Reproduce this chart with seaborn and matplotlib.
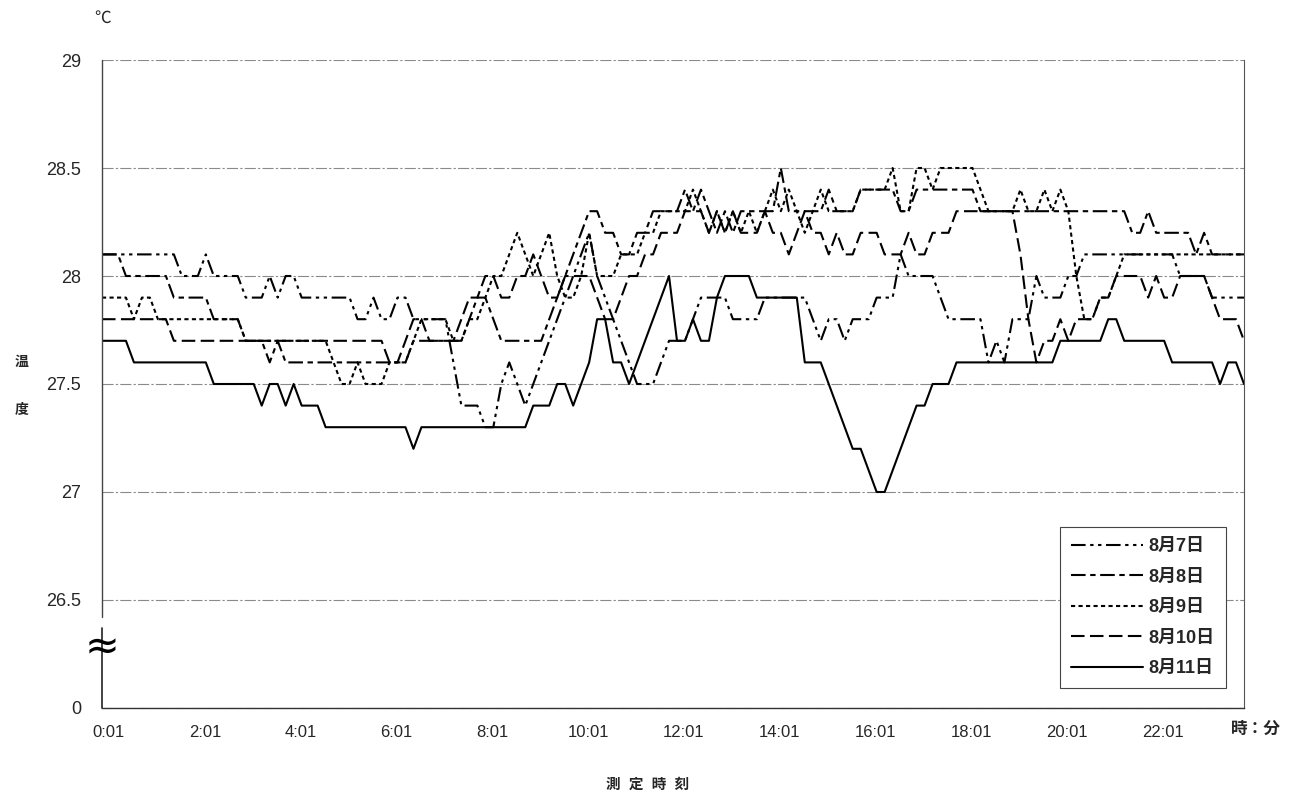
import numpy as np
import pandas as pd
import matplotlib
matplotlib.use("Agg")
import matplotlib.pyplot as plt
import matplotlib.transforms as mtransforms
import seaborn as sns

# ── 測定値 (10分間隔, 0:01 ～ 23:51) ─────────────────────────────────────────
aug07 = [28.1, 28.1, 28.1, 28.1, 28.1, 28.1, 28.1, 28.1, 28.1, 28.1, 28.0, 28.0,
         28.0, 28.1, 28.0, 28.0, 28.0, 28.0, 27.9, 27.9, 27.9, 28.0, 27.9, 28.0,
         28.0, 27.9, 27.9, 27.9, 27.9, 27.9, 27.9, 27.9, 27.8, 27.8, 27.9, 27.8,
         27.8, 27.9, 27.9, 27.8, 27.8, 27.8, 27.8, 27.8, 27.6, 27.4, 27.4, 27.4,
         27.3, 27.3, 27.5, 27.6, 27.5, 27.4, 27.5, 27.6, 27.7, 27.8, 27.9, 28.0,
         28.1, 28.2, 28.0, 27.9, 27.8, 27.7, 27.6, 27.5, 27.5, 27.5, 27.6, 27.7,
         27.7, 27.7, 27.8, 27.9, 27.9, 27.9, 27.9, 27.8, 27.8, 27.8, 27.8, 27.9,
         27.9, 27.9, 27.9, 27.9, 27.9, 27.8, 27.7, 27.8, 27.8, 27.7, 27.8, 27.8,
         27.8, 27.9, 27.9, 27.9, 28.1, 28.0, 28.0, 28.0, 28.0, 27.9, 27.8, 27.8,
         27.8, 27.8, 27.8, 27.6, 27.7, 27.6, 27.8, 27.8, 27.8, 28.0, 27.9, 27.9,
         27.9, 28.0, 28.0, 28.1, 28.1, 28.1, 28.1, 28.1, 28.1, 28.1, 28.1, 28.1,
         28.1, 28.1, 28.1, 28.0, 28.0, 28.0, 28.0, 27.9, 27.9, 27.9, 27.9, 27.9]

aug08 = [28.1, 28.1, 28.1, 28.0, 28.0, 28.0, 28.0, 28.0, 28.0, 27.9, 27.9, 27.9,
         27.9, 27.9, 27.8, 27.8, 27.8, 27.8, 27.7, 27.7, 27.7, 27.6, 27.7, 27.6,
         27.6, 27.6, 27.6, 27.6, 27.6, 27.6, 27.6, 27.6, 27.6, 27.6, 27.6, 27.6,
         27.6, 27.6, 27.6, 27.7, 27.7, 27.7, 27.7, 27.7, 27.7, 27.7, 27.8, 27.9,
         27.9, 27.8, 27.7, 27.7, 27.7, 27.7, 27.7, 27.7, 27.8, 27.9, 28.0, 28.1,
         28.2, 28.3, 28.3, 28.2, 28.2, 28.1, 28.1, 28.2, 28.2, 28.3, 28.3, 28.3,
         28.3, 28.4, 28.3, 28.4, 28.3, 28.2, 28.3, 28.2, 28.3, 28.3, 28.3, 28.3,
         28.3, 28.5, 28.3, 28.3, 28.3, 28.3, 28.3, 28.4, 28.3, 28.3, 28.3, 28.4,
         28.4, 28.4, 28.4, 28.4, 28.3, 28.3, 28.4, 28.4, 28.4, 28.4, 28.4, 28.4,
         28.4, 28.4, 28.3, 28.3, 28.3, 28.3, 28.3, 28.3, 28.3, 28.3, 28.3, 28.3,
         28.3, 28.3, 28.3, 28.3, 28.3, 28.3, 28.3, 28.3, 28.3, 28.2, 28.2, 28.3,
         28.2, 28.2, 28.2, 28.2, 28.2, 28.1, 28.2, 28.1, 28.1, 28.1, 28.1, 28.1]

aug09 = [27.9, 27.9, 27.9, 27.9, 27.8, 27.9, 27.9, 27.8, 27.8, 27.8, 27.8, 27.8,
         27.8, 27.8, 27.8, 27.8, 27.8, 27.8, 27.7, 27.7, 27.7, 27.7, 27.7, 27.7,
         27.7, 27.7, 27.7, 27.7, 27.7, 27.6, 27.5, 27.5, 27.6, 27.5, 27.5, 27.5,
         27.6, 27.6, 27.6, 27.7, 27.8, 27.8, 27.8, 27.8, 27.7, 27.7, 27.8, 27.8,
         27.9, 28.0, 28.0, 28.1, 28.2, 28.1, 28.0, 28.1, 28.2, 28.0, 27.9, 27.9,
         28.0, 28.2, 28.0, 28.0, 28.0, 28.1, 28.1, 28.1, 28.2, 28.2, 28.3, 28.3,
         28.3, 28.3, 28.4, 28.3, 28.2, 28.3, 28.2, 28.3, 28.2, 28.3, 28.2, 28.3,
         28.4, 28.3, 28.4, 28.3, 28.2, 28.3, 28.4, 28.3, 28.3, 28.3, 28.3, 28.4,
         28.4, 28.4, 28.4, 28.5, 28.3, 28.3, 28.5, 28.5, 28.4, 28.5, 28.5, 28.5,
         28.5, 28.5, 28.4, 28.3, 28.3, 28.3, 28.3, 28.4, 28.3, 28.3, 28.4, 28.3,
         28.4, 28.3, 28.0, 27.8, 27.8, 27.9, 27.9, 28.0, 28.1, 28.1, 28.1, 28.1,
         28.1, 28.1, 28.1, 28.1, 28.1, 28.1, 28.1, 28.1, 28.1, 28.1, 28.1, 28.1]

aug10 = [27.8, 27.8, 27.8, 27.8, 27.8, 27.8, 27.8, 27.8, 27.8, 27.7, 27.7, 27.7,
         27.7, 27.7, 27.7, 27.7, 27.7, 27.7, 27.7, 27.7, 27.7, 27.7, 27.7, 27.7,
         27.7, 27.7, 27.7, 27.7, 27.7, 27.7, 27.7, 27.7, 27.7, 27.7, 27.7, 27.7,
         27.6, 27.6, 27.7, 27.8, 27.8, 27.7, 27.7, 27.7, 27.7, 27.8, 27.9, 27.9,
         28.0, 28.0, 27.9, 27.9, 28.0, 28.0, 28.1, 28.0, 27.9, 27.9, 28.0, 28.0,
         28.0, 28.0, 27.9, 27.8, 27.8, 27.9, 28.0, 28.0, 28.1, 28.1, 28.2, 28.2,
         28.2, 28.3, 28.3, 28.3, 28.2, 28.3, 28.2, 28.3, 28.2, 28.2, 28.2, 28.3,
         28.2, 28.2, 28.1, 28.2, 28.3, 28.2, 28.2, 28.1, 28.2, 28.1, 28.1, 28.2,
         28.2, 28.2, 28.1, 28.1, 28.1, 28.2, 28.1, 28.1, 28.2, 28.2, 28.2, 28.3,
         28.3, 28.3, 28.3, 28.3, 28.3, 28.3, 28.3, 28.1, 27.8, 27.6, 27.7, 27.7,
         27.8, 27.7, 27.8, 27.8, 27.8, 27.9, 27.9, 28.0, 28.0, 28.0, 28.0, 27.9,
         28.0, 27.9, 27.9, 28.0, 28.0, 28.0, 28.0, 27.9, 27.8, 27.8, 27.8, 27.7]

aug11 = [27.7, 27.7, 27.7, 27.7, 27.6, 27.6, 27.6, 27.6, 27.6, 27.6, 27.6, 27.6,
         27.6, 27.6, 27.5, 27.5, 27.5, 27.5, 27.5, 27.5, 27.4, 27.5, 27.5, 27.4,
         27.5, 27.4, 27.4, 27.4, 27.3, 27.3, 27.3, 27.3, 27.3, 27.3, 27.3, 27.3,
         27.3, 27.3, 27.3, 27.2, 27.3, 27.3, 27.3, 27.3, 27.3, 27.3, 27.3, 27.3,
         27.3, 27.3, 27.3, 27.3, 27.3, 27.3, 27.4, 27.4, 27.4, 27.5, 27.5, 27.4,
         27.5, 27.6, 27.8, 27.8, 27.6, 27.6, 27.5, 27.6, 27.7, 27.8, 27.9, 28.0,
         27.7, 27.7, 27.8, 27.7, 27.7, 27.9, 28.0, 28.0, 28.0, 28.0, 27.9, 27.9,
         27.9, 27.9, 27.9, 27.9, 27.6, 27.6, 27.6, 27.5, 27.4, 27.3, 27.2, 27.2,
         27.1, 27.0, 27.0, 27.1, 27.2, 27.3, 27.4, 27.4, 27.5, 27.5, 27.5, 27.6,
         27.6, 27.6, 27.6, 27.6, 27.6, 27.6, 27.6, 27.6, 27.6, 27.6, 27.6, 27.6,
         27.7, 27.7, 27.7, 27.7, 27.7, 27.7, 27.8, 27.8, 27.7, 27.7, 27.7, 27.7,
         27.7, 27.7, 27.6, 27.6, 27.6, 27.6, 27.6, 27.6, 27.5, 27.6, 27.6, 27.5]

days = ["8月7日", "8月8日", "8月9日", "8月10日", "8月11日"]
xtick_labels = ["0:01", "2:01", "4:01", "6:01", "8:01", "10:01",
                "12:01", "14:01", "16:01", "18:01", "20:01", "22:01"]
ytick_vals = [26.0, 26.5, 27.0, 27.5, 28.0, 28.5, 29.0]
ytick_labels = ["0", "26.5", "27", "27.5", "28", "28.5", "29"]

# ── DataFrame (long形式) ───────────────────────────────────────────────────────
rows = []
for day, vals in zip(days, [aug07, aug08, aug09, aug10, aug11]):
    for i, v in enumerate(vals):
        rows.append({"idx": i, "temp": v, "day": day})
df = pd.DataFrame(rows)

# ── スタイル ───────────────────────────────────────────────────────────────────
sns.set_style("white")
plt.rcParams["font.family"] = ["Liberation Sans", "Noto Sans CJK JP", "DejaVu Sans"]

dash_map = {
    "8月7日": (7, 2.2, 1.6, 2.2, 1.6, 2.2),
    "8月8日": (7, 2.2, 2.6, 2.2),
    "8月9日": (2.0, 1.6),
    "8月10日": (6.5, 2.6),
    "8月11日": "",
}

fig = plt.figure(figsize=(12.96, 7.99), dpi=100)
ax = fig.add_axes([0.0787, 0.1139, 0.8812, 0.811])

sns.lineplot(data=df, x="idx", y="temp", style="day", style_order=days,
             dashes=dash_map, color="black", lw=1.5, ax=ax)

# ── 軸 ─────────────────────────────────────────────────────────────────────────
n = len(aug11)
ax.set_xlim(0, n - 1)
ax.set_ylim(26.0, 29.0)
ax.set_xticks(range(0, n, 12))
ax.set_xticklabels(xtick_labels, fontsize=12)
ax.set_xticks(range(0, n, 4), minor=True)
ax.set_yticks(ytick_vals)
ax.set_yticklabels(ytick_labels, fontsize=13)
ax.tick_params(axis="x", which="major", direction="in", length=4, width=0.8,
               pad=12, color="#333333")
ax.tick_params(axis="x", which="minor", direction="in", length=2, width=0.6,
               color="#555555")
ax.tick_params(axis="y", length=0, pad=15)
ax.set_xlabel("")
ax.set_ylabel("")

# 目盛ラベルを少し右へ
shift = mtransforms.ScaledTranslation(7 / 100, 0, fig.dpi_scale_trans)
for lab in ax.get_xticklabels():
    lab.set_transform(lab.get_transform() + shift)

ax.yaxis.grid(True, color="#8a8a8a", lw=0.8, linestyle=(0, (10, 2, 2, 2)))
ax.xaxis.grid(False)

for s in ["left", "top"]:
    ax.spines[s].set_visible(False)
ax.spines["bottom"].set_color("#333333")
ax.spines["bottom"].set_linewidth(1.0)
ax.spines["right"].set_color("#555555")
ax.spines["right"].set_linewidth(0.8)

# 縦軸の省略 (波線)
ax.axvline(0, ymin=0.14, ymax=1.0, color="#444444", lw=1.0, clip_on=False)
ax.axvline(0, ymin=0.0, ymax=0.123, color="#222222", lw=1.2, clip_on=False)
ax.text(0, 26.28, "≈", ha="center", va="center", fontsize=30,
        family="DejaVu Sans", color="black")

# ── 凡例 ───────────────────────────────────────────────────────────────────────
handles, labels = ax.get_legend_handles_labels()
pairs = [(h, l) for h, l in zip(handles, labels) if l in days]
leg = ax.legend([p[0] for p in pairs], [p[1] for p in pairs],
                loc="upper left", bbox_to_anchor=(0.839, 0.279),
                borderaxespad=0, handlelength=4.0, handletextpad=0.3,
                labelspacing=0.75, fancybox=False, framealpha=1,
                edgecolor="#444444", prop={"size": 13, "weight": "bold"},
                borderpad=0.6)
leg.get_frame().set_linewidth(0.8)

# ── テキスト ───────────────────────────────────────────────────────────────────
fig.text(103 / 1296, 1 - 18 / 799, "℃", ha="center", va="center", fontsize=12)
fig.text(22 / 1296, 1 - 362 / 799, "温", ha="center", va="center",
         fontsize=10, fontweight="bold")
fig.text(22 / 1296, 1 - 410 / 799, "度", ha="center", va="center",
         fontsize=10, fontweight="bold")
fig.text(1256 / 1296, 1 - 729 / 799, "時：分", ha="center", va="center",
         fontsize=12, fontweight="bold")
fig.text(648 / 1296, 1 - 785 / 799, "測  定  時  刻", ha="center", va="center",
         fontsize=10.5, fontweight="bold")

fig.savefig("out.png", dpi=100)
plt.close(fig)
